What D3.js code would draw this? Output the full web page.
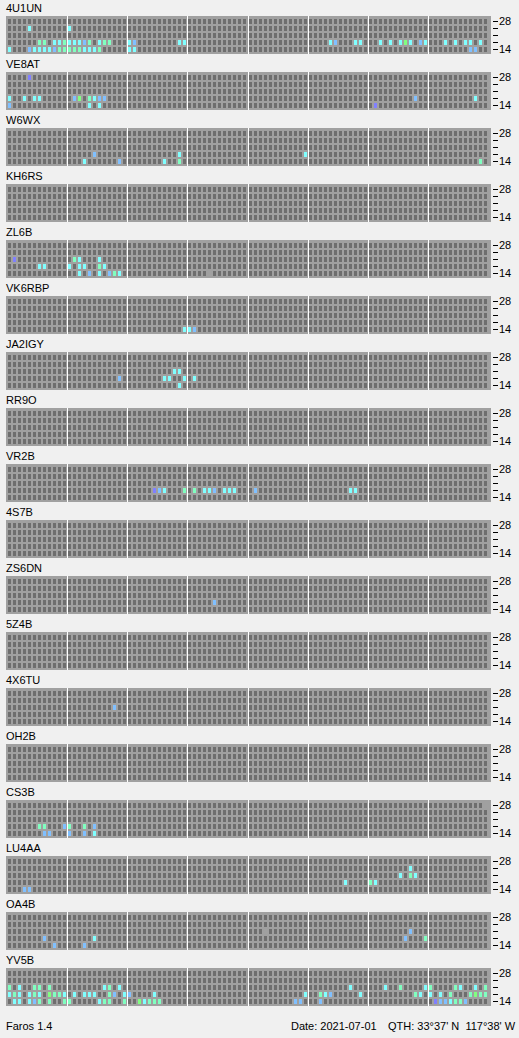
<!DOCTYPE html>
<html>
<head>
<meta charset="utf-8">
<script src="https://cdnjs.cloudflare.com/ajax/libs/d3/7.8.5/d3.min.js"></script>
<style>
body { margin: 0; background: #f0f0f0; }
svg text { font-family: "Liberation Sans", Arial, sans-serif; font-size: 11px; fill: #000; }
</style>
</head>
<body>
<div id="container"></div>
<script>
var stations = ["4U1UN", "VE8AT", "W6WX", "KH6RS", "ZL6B", "VK6RBP", "JA2IGY", "RR9O", "VR2B",
	"4S7B", "ZS6DN", "5Z4B", "4X6TU", "OH2B", "CS3B", "LU4AA", "OA4B", "YV5B"];
var bands = ["28", "24", "21", "18", "14"];
var bandLabels = ["28", "", "", "", "14"];
var slots = d3.range(96); // 24h in 15 min slots

// signal level code -> colour
var levelCodes = ["g", "p", "b", "c", "a", "G"];
var levelColors = ["#a0a0a0", "#8080ff", "#80c0ff", "#80ffff", "#80ffc0", "#80ff80"];

// heard slots, one string per band (28 -> 14), "slot+level"
var s4U1UN = ["", "4c 12c", "",
	"6a 7a 9c 10c 11a 12c 13c 14c 15b 16a 18c 19a 20a 24c 25b 34c 35c 64c 65b 69c 70c 74c 76c 78c 79G 80c 82b 83c 87c 89c 91c 92c 94c",
	"0c 4b 5c 6c 7c 8c 9b 10a 11a 12a 13a 14a 15c 16c 17c 18a 24c 25c 92b 93b"];
var sVE8AT = ["4p", "", "", "0c 3c 5c 6c 13b 14G 16a 17c 18b 19b 81b 93c", "0b 16c 18c 73p"];
var sW6WX = ["", "", "", "17b 34c 59c", "15c 22b 31c 34a 94a"];
var sKH6RS = ["", "", "", "", ""];
var sZL6B = ["", "", "1p 13a 14c 18c", "6c 7c 12c 14c 15c 18a 19c", "14c 16b 18c 20b 21a 22c 40g"];
var sVK6RBP = ["", "", "", "", "35c 36c 37b"];
var sJA2IGY = ["", "", "33c 34c", "22b 31c 32c 35c 37c", "34c"];
var sRR9O = ["", "", "", "", ""];
var sVR2B = ["", "", "", "29p 30b 31c 35a 37a 39c 40c 41b 43c 44c 45c 49b 68c 69c", ""];
var s4S7B = ["", "", "", "", ""];
var sZS6DN = ["", "", "", "41b", ""];
var s5Z4B = ["", "", "", "", ""];
var s4X6TU = ["", "", "21b", "", ""];
var sOH2B = ["", "", "", "", ""];
var sCS3B = ["95g", "", "", "6a 7a 11b 12a 15a 17b", "7b 8b 12b 15b 17c"];
var sLU4AA = ["", "80c", "78c 80a 81c", "67c 72a 73c", "3b 4b"];
var sOA4B = ["", "", "51g 80b", "7b 17c 79b 83a", "9b 15b"];
var sYV5B = ["", "",
	"0a 2c 5a 6a 8a 19c 20a 22c 68c 75c 78a 83c 84a 89a 90c 93c 95a",
	"0c 1a 2c 4c 5a 6c 8G 9a 10a 11c 13c 15c 16c 17c 20a 21b 23c 24b 29c 59c 62a 63c 64b 70c 81a 82c 84c 86c 88a 92a 93G 94a 95a",
	"1c 2c 4c 5b 6a 8a 11a 12a 18c 19a 20a 23a 26G 27c 28a 29a 30a 57b 58b 62b 85p 86b 87b 88c 89a 90a 91b"];

var spots = [s4U1UN, sVE8AT, sW6WX, sKH6RS, sZL6B, sVK6RBP, sJA2IGY, sRR9O, sVR2B,
	s4S7B, sZS6DN, s5Z4B, s4X6TU, sOH2B, sCS3B, sLU4AA, sOA4B, sYV5B];

var footLeft = "Faros 1.4";
var footDate = "Date: 2021-07-01";
var footQth = "QTH: 33\u00b037' N\u00a0\u00a0117\u00b038' W";

var w = 519, h = 1038;

function parseSpots(rows){
	//turn the strings into a lookup "band|slot" -> level
	var map = {};
	rows.forEach(function(r, i){
		r.split(" ").filter(function(s){ return s.length; }).forEach(function(s){
			var slot = +s.slice(0, -1);
			map[bands[i] + "|" + slot] = s.slice(-1);
		});
	});
	return map;
}

function makePanels(){
	var svg = d3.select("#container")
		.append("svg")
		.attr("width", w)
		.attr("height", h);

	var x = d3.scaleBand().domain(slots).range([8, 487]).paddingInner(0.4);
	var y = d3.scaleBand().domain(bands).range([3, 36]).paddingInner(2/7);
	var panelY = d3.scaleLinear().domain([0, 1]).range([16, 72]);
	var color = d3.scaleOrdinal().domain(levelCodes).range(levelColors);
	var frameH = 38;

	var cells = [];
	bands.forEach(function(b){
		slots.forEach(function(s){ cells.push({band: b, slot: s}); });
	});

	var panel = svg.selectAll("g.panel")
		.data(stations)
		.enter()
		.append("g")
		.attr("class", "panel")
		.attr("transform", function(d, i){ return "translate(0," + panelY(i) + ")"; });

	panel.append("text")
		.attr("x", 6)
		.attr("y", -4)
		.text(function(d){ return d; });

	panel.append("rect")
		.attr("x", 6)
		.attr("y", 0)
		.attr("width", 485)
		.attr("height", frameH)
		.attr("fill", "#a0a0a0");

	panel.each(function(d, i){
		var heard = parseSpots(spots[i]);
		d3.select(this).selectAll("rect.cell")
			.data(cells)
			.enter()
			.append("rect")
			.attr("class", "cell")
			.attr("x", function(c){ return Math.round(x(c.slot)); })
			.attr("y", function(c){ return Math.round(y(c.band)); })
			.attr("width", 3)
			.attr("height", Math.round(y.bandwidth()))
			.attr("fill", function(c){
				var lv = heard[c.band + "|" + c.slot];
				return lv ? color(lv) : "#6e6e6e";
			});
	});

	// 3 hour separators
	panel.selectAll("rect.sep")
		.data(d3.range(1, 8))
		.enter()
		.append("rect")
		.attr("class", "sep")
		.attr("x", function(k){ return Math.round(x(k * 12)) - 1; })
		.attr("y", 0)
		.attr("width", 1)
		.attr("height", frameH)
		.attr("fill", "#ffffff");

	var axis = d3.axisRight(y)
		.tickSize(5)
		.tickPadding(1)
		.tickFormat(function(d, i){ return bandLabels[i]; });

	panel.append("g")
		.attr("transform", "translate(493,0)")
		.call(axis)
		.call(function(g){ g.select(".domain").remove(); });

	svg.append("text").attr("x", 6).attr("y", 1030).text(footLeft);
	svg.append("text").attr("x", 291).attr("y", 1030).text(footDate);
	svg.append("text").attr("x", 388).attr("y", 1030).text(footQth);
}

makePanels();
</script>
</body>
</html>
